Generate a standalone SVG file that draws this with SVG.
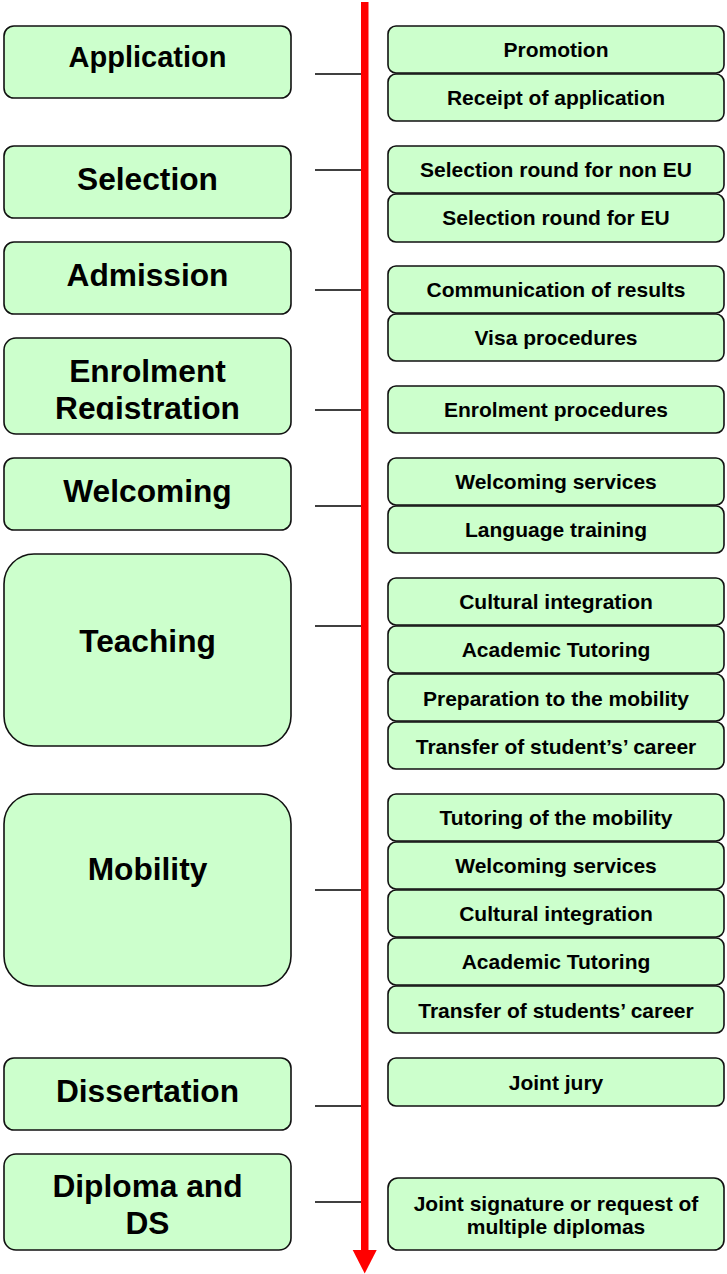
<svg xmlns="http://www.w3.org/2000/svg" width="727" height="1274" viewBox="0 0 727 1274">
<style>
.box{fill:#CCFFCC;stroke:#111;stroke-width:1.6}
.t{font-family:"Liberation Sans",Arial,sans-serif;font-weight:bold;fill:#000;text-anchor:middle}
.L{font-size:31.7px}
.R{font-size:21px}
.conn{stroke:#000;stroke-width:1.4;fill:none}
</style>
<defs>
<clipPath id="clipReg"><rect x="0" y="330" width="300" height="89.5"/></clipPath>
</defs>
<rect width="727" height="1274" fill="#fff"/>

<g id="connectors">
<line class="conn" x1="315" y1="74" x2="363" y2="74"/>
<line class="conn" x1="315" y1="170" x2="363" y2="170"/>
<line class="conn" x1="315" y1="290" x2="363" y2="290"/>
<line class="conn" x1="315" y1="410" x2="363" y2="410"/>
<line class="conn" x1="315" y1="506" x2="363" y2="506"/>
<line class="conn" x1="315" y1="626" x2="363" y2="626"/>
<line class="conn" x1="315" y1="890" x2="363" y2="890"/>
<line class="conn" x1="315" y1="1106" x2="363" y2="1106"/>
<line class="conn" x1="315" y1="1202" x2="363" y2="1202"/>
</g>

<g id="timeline">
<rect x="361" y="2" width="7.5" height="1250" fill="#FF0000"/>
<polygon points="352.7,1250 376.7,1250 364.7,1273.5" fill="#FF0000"/>
</g>

<g id="application">
<rect class="box" x="4" y="26" width="287" height="72" rx="10"/>
<text class="t" x="147.5" y="67" style="font-size:29px">Application</text>
</g>
<g id="selection">
<rect class="box" x="4" y="146" width="287" height="72" rx="10"/>
<text class="t L" x="147.5" y="190">Selection</text>
</g>
<g id="admission">
<rect class="box" x="4" y="242" width="287" height="72" rx="10"/>
<text class="t L" x="147.5" y="286">Admission</text>
</g>
<g id="enrolment">
<rect class="box" x="4" y="338" width="287" height="96" rx="12"/>
<text class="t L" x="147.5" y="382">Enrolment</text>
<text class="t L" x="147.5" y="418.5" clip-path="url(#clipReg)">Registration</text>
</g>
<g id="welcoming">
<rect class="box" x="4" y="458" width="287" height="72" rx="10"/>
<text class="t L" x="147.5" y="502">Welcoming</text>
</g>
<g id="teaching">
<rect class="box" x="4" y="554" width="287" height="192" rx="30"/>
<text class="t L" x="147.5" y="652">Teaching</text>
</g>
<g id="mobility">
<rect class="box" x="4" y="794" width="287" height="192" rx="30"/>
<text class="t L" x="147.5" y="880">Mobility</text>
</g>
<g id="dissertation">
<rect class="box" x="4" y="1058" width="287" height="72" rx="10"/>
<text class="t L" x="147.5" y="1102">Dissertation</text>
</g>
<g id="diploma">
<rect class="box" x="4" y="1154" width="287" height="96" rx="12"/>
<text class="t L" x="147.5" y="1197">Diploma and</text>
<text class="t L" x="147.5" y="1234">DS</text>
</g>

<g id="promotion">
<rect class="box" x="388" y="26" width="336" height="47" rx="8"/>
<text class="t R" x="556" y="56.5">Promotion</text>
</g>
<g id="receipt">
<rect class="box" x="388" y="74" width="336" height="47" rx="8"/>
<text class="t R" x="556" y="105">Receipt of application</text>
</g>
<g id="sel-noneu">
<rect class="box" x="388" y="146" width="336" height="47" rx="8"/>
<text class="t R" x="556" y="177">Selection round for non EU</text>
</g>
<g id="sel-eu">
<rect class="box" x="388" y="194" width="336" height="48" rx="8"/>
<text class="t R" x="556" y="225">Selection round for EU</text>
</g>
<g id="communication">
<rect class="box" x="388" y="266" width="336" height="47" rx="8"/>
<text class="t R" x="556" y="297">Communication of results</text>
</g>
<g id="visa">
<rect class="box" x="388" y="314" width="336" height="47" rx="8"/>
<text class="t R" x="556" y="344.5">Visa procedures</text>
</g>
<g id="enrol-proc">
<rect class="box" x="388" y="386" width="336" height="47" rx="8"/>
<text class="t R" x="556" y="417">Enrolment procedures</text>
</g>
<g id="welc-serv">
<rect class="box" x="388" y="458" width="336" height="47" rx="8"/>
<text class="t R" x="556" y="489">Welcoming services</text>
</g>
<g id="language">
<rect class="box" x="388" y="506" width="336" height="47" rx="8"/>
<text class="t R" x="556" y="537">Language training</text>
</g>
<g id="t-cultural">
<rect class="box" x="388" y="578" width="336" height="47" rx="8"/>
<text class="t R" x="556" y="608.5">Cultural integration</text>
</g>
<g id="t-academic">
<rect class="box" x="388" y="626" width="336" height="47" rx="8"/>
<text class="t R" x="556" y="657">Academic Tutoring</text>
</g>
<g id="t-prep">
<rect class="box" x="388" y="674" width="336" height="47" rx="8"/>
<text class="t R" x="556" y="705.5">Preparation to the mobility</text>
</g>
<g id="t-transfer">
<rect class="box" x="388" y="722" width="336" height="47" rx="8"/>
<text class="t R" x="556" y="753.5">Transfer of student’s’ career</text>
</g>
<g id="m-tutoring">
<rect class="box" x="388" y="794" width="336" height="47" rx="8"/>
<text class="t R" x="556" y="825">Tutoring of the mobility</text>
</g>
<g id="m-welcoming">
<rect class="box" x="388" y="842" width="336" height="47" rx="8"/>
<text class="t R" x="556" y="873">Welcoming services</text>
</g>
<g id="m-cultural">
<rect class="box" x="388" y="890" width="336" height="47" rx="8"/>
<text class="t R" x="556" y="921">Cultural integration</text>
</g>
<g id="m-academic">
<rect class="box" x="388" y="938" width="336" height="47" rx="8"/>
<text class="t R" x="556" y="969">Academic Tutoring</text>
</g>
<g id="m-transfer">
<rect class="box" x="388" y="986" width="336" height="47" rx="8"/>
<text class="t R" x="556" y="1017.5">Transfer of students’ career</text>
</g>
<g id="jury">
<rect class="box" x="388" y="1058" width="336" height="48" rx="8"/>
<text class="t R" x="556" y="1090">Joint jury</text>
</g>
<g id="signature">
<rect class="box" x="388" y="1178" width="336" height="72" rx="10"/>
<text class="t R" x="556" y="1211">Joint signature or request of</text>
<text class="t R" x="556" y="1234">multiple diplomas</text>
</g>
</svg>
